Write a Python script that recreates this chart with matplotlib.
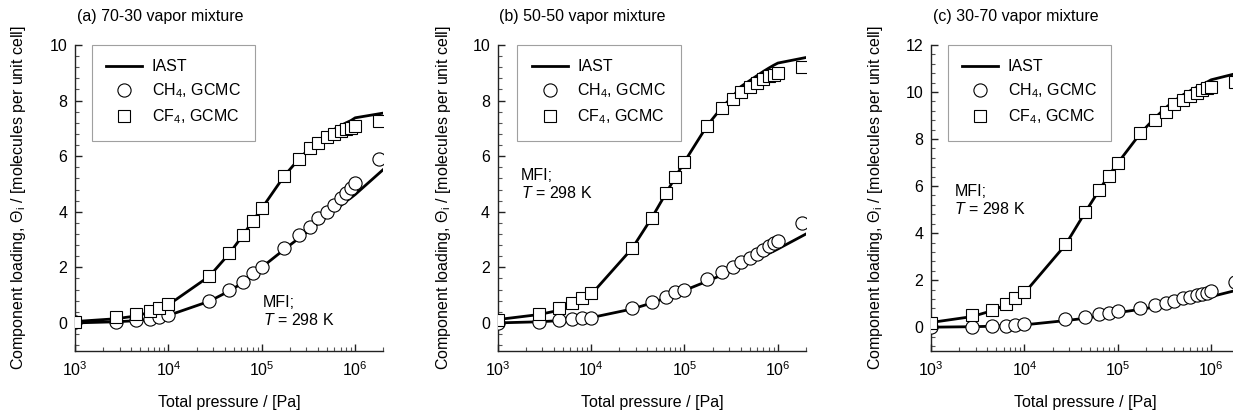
import numpy as np
import matplotlib
matplotlib.use("Agg")
import matplotlib.pyplot as plt
from matplotlib.ticker import MultipleLocator, LogLocator, NullFormatter
from matplotlib.lines import Line2D

plt.rcParams['font.family'] = ['Liberation Sans', 'DejaVu Sans']
plt.rcParams['mathtext.fontset'] = 'custom'
plt.rcParams['mathtext.rm'] = 'Liberation Sans'
plt.rcParams['mathtext.it'] = 'Liberation Sans:italic'
plt.rcParams['mathtext.bf'] = 'Liberation Sans:bold'

# ---------------- data ----------------
p_gcmc = [1e3, 2.75e3, 4.5e3, 6.3e3, 8e3, 1e4, 2.75e4, 4.5e4, 6.3e4, 8e4, 1e5,
          1.75e5, 2.5e5, 3.3e5, 4e5, 5e5, 6e5, 7e5, 8e5, 9e5, 1e6, 1.8e6]
p_iast = [1e3, 2.75e3, 4.5e3, 6.3e3, 8e3, 1e4, 2.75e4, 4.5e4, 6.3e4, 8e4, 1e5,
          1.75e5, 2.5e5, 3.3e5, 4e5, 5e5, 6e5, 7e5, 8e5, 9e5, 1e6, 2e6]

# (a) 70-30
a_cf4_gcmc = [0.05, 0.2, 0.31, 0.42, 0.55, 0.67, 1.68, 2.5, 3.16, 3.67, 4.12,
              5.3, 5.88, 6.28, 6.48, 6.7, 6.8, 6.9, 6.98, 7.02, 7.08, 7.28]
a_ch4_gcmc = [0.02, 0.05, 0.1, 0.15, 0.2, 0.3, 0.79, 1.18, 1.48, 1.78, 2.02,
              2.7, 3.16, 3.46, 3.76, 4.0, 4.24, 4.48, 4.68, 4.84, 5.02, 5.88]
a_cf4_iast = [0.05, 0.15, 0.25, 0.38, 0.52, 0.65, 1.68, 2.5, 3.16, 3.67, 4.12,
              5.3, 5.9, 6.3, 6.55, 6.8, 6.97, 7.1, 7.2, 7.28, 7.38, 7.55]
a_ch4_iast = [0.0, 0.04, 0.08, 0.13, 0.18, 0.27, 0.78, 1.15, 1.45, 1.72, 2.0,
              2.65, 3.05, 3.35, 3.58, 3.83, 4.04, 4.22, 4.38, 4.5, 4.62, 5.52]

# (b) 50-50
b_cf4_gcmc = [0.12, 0.31, 0.52, 0.72, 0.9, 1.08, 2.68, 3.79, 4.66, 5.26, 5.8,
              7.1, 7.72, 8.04, 8.3, 8.48, 8.65, 8.78, 8.87, 8.93, 8.98, 9.22]
b_ch4_gcmc = [0.0, 0.04, 0.1, 0.13, 0.16, 0.19, 0.52, 0.76, 0.95, 1.1, 1.2,
              1.58, 1.84, 2.0, 2.2, 2.35, 2.47, 2.64, 2.76, 2.86, 2.94, 3.6]
b_cf4_iast = [0.12, 0.3, 0.45, 0.62, 0.8, 1.02, 2.68, 3.8, 4.65, 5.25, 5.8,
              7.1, 7.75, 8.15, 8.5, 8.72, 8.9, 9.05, 9.17, 9.27, 9.35, 9.55]
b_ch4_iast = [0.0, 0.04, 0.08, 0.11, 0.15, 0.19, 0.5, 0.72, 0.9, 1.05, 1.17,
              1.5, 1.72, 1.9, 2.03, 2.18, 2.3, 2.4, 2.5, 2.58, 2.66, 3.2]

# (c) 30-70
c_cf4_gcmc = [0.18, 0.5, 0.72, 1.0, 1.25, 1.49, 3.54, 4.9, 5.82, 6.45, 6.98,
              8.25, 8.82, 9.17, 9.48, 9.66, 9.83, 9.97, 10.09, 10.16, 10.2, 10.44]
c_ch4_gcmc = [0.0, 0.02, 0.04, 0.07, 0.11, 0.15, 0.33, 0.42, 0.54, 0.6, 0.68,
              0.82, 0.93, 1.03, 1.13, 1.22, 1.29, 1.35, 1.4, 1.46, 1.53, 1.93]
c_cf4_iast = [0.2, 0.45, 0.7, 0.95, 1.2, 1.45, 3.5, 4.9, 5.82, 6.45, 6.98,
              8.25, 8.9, 9.35, 9.62, 9.88, 10.06, 10.2, 10.32, 10.42, 10.52, 10.82]
c_ch4_iast = [0.0, 0.02, 0.04, 0.06, 0.08, 0.1, 0.28, 0.38, 0.48, 0.56, 0.62,
              0.76, 0.86, 0.94, 1.0, 1.07, 1.13, 1.18, 1.23, 1.27, 1.3, 1.6]

titles = ["(a) 70-30 vapor mixture", "(b) 50-50 vapor mixture", "(c) 30-70 vapor mixture"]
ymaxes = [10, 10, 12]
legend_labels = ["IAST", "CH$_4$, GCMC", "CF$_4$, GCMC"]
annot = "MFI;\n$T$ = 298 K"

# ---------------- layout ----------------
W, H = 1233, 411
fig = plt.figure(figsize=(W / 100, H / 100), dpi=100)
FS = 11.5

lefts_px = [75, 497.7, 931]
ax_w_px, ax_bottom_px, ax_top_px = 308.3, 350.7, 45
legend_x = [0.054, 0.064, 0.054]
annot_pos = [(0.609, 0.128), (0.0756, 0.545), (0.0756, 0.491)]
ylabel_x = [-0.182, -0.176, -0.18]

panels = [
    (a_cf4_gcmc, a_ch4_gcmc, a_cf4_iast, a_ch4_iast),
    (b_cf4_gcmc, b_ch4_gcmc, b_cf4_iast, b_ch4_iast),
    (c_cf4_gcmc, c_ch4_gcmc, c_cf4_iast, c_ch4_iast),
]

for i, (cf4_g, ch4_g, cf4_i, ch4_i) in enumerate(panels):
    ax = fig.add_axes([lefts_px[i] / W, (H - ax_bottom_px) / H,
                       ax_w_px / W, (ax_bottom_px - ax_top_px) / H])
    ax.set_xscale('log')
    ax.plot(p_iast, cf4_i, color='black', lw=2.0, zorder=2)
    ax.plot(p_iast, ch4_i, color='black', lw=2.0, zorder=2)
    ax.plot(p_gcmc, ch4_g, linestyle='none', marker='o', ms=9.5, mfc='white',
            mec='black', mew=0.8, zorder=3)
    ax.plot(p_gcmc, cf4_g, linestyle='none', marker='s', ms=8.2, mfc='white',
            mec='black', mew=0.8, zorder=4)

    ax.set_xlim(1e3, 2e6)
    ax.set_ylim(-1, ymaxes[i])
    ax.yaxis.set_major_locator(MultipleLocator(2))
    ax.yaxis.set_minor_locator(MultipleLocator(0.4))
    ax.xaxis.set_major_locator(LogLocator(base=10, numticks=10))
    ax.xaxis.set_minor_locator(LogLocator(base=10, subs=np.arange(2, 10), numticks=20))
    ax.xaxis.set_minor_formatter(NullFormatter())

    for s in ['top', 'right']:
        ax.spines[s].set_visible(False)
    for s in ['left', 'bottom']:
        ax.spines[s].set_linewidth(1.0)
        ax.spines[s].set_color('#222222')
    ax.tick_params(which='major', direction='in', length=5, width=1.0,
                   color='#222222', labelsize=FS)
    ax.tick_params(which='minor', direction='in', length=3, width=0.8,
                   color='#555555')
    ax.tick_params(axis='y', which='major', pad=5.5)
    ax.tick_params(axis='x', which='major', pad=7)

    ax.set_xlabel("Total pressure / [Pa]", fontsize=FS)
    ax.xaxis.set_label_coords(0.5, -0.17)
    ax.xaxis.label.set_va('center')
    ax.set_ylabel("Component loading, \u0398$_\\mathrm{i}$ / [molecules per unit cell]",
                  fontsize=FS)
    ax.yaxis.set_label_coords(ylabel_x[i], 0.5)
    ax.yaxis.label.set_va('center')

    ax.text(0.005, 1.092, titles[i], transform=ax.transAxes, ha='left',
            va='center', fontsize=FS)
    ax.text(annot_pos[i][0], annot_pos[i][1], annot, transform=ax.transAxes,
            ha='left', va='center', fontsize=FS, linespacing=1.15)

    handles = [
        Line2D([], [], color='black', lw=2.0),
        Line2D([], [], linestyle='none', marker='o', ms=9.5, mfc='white',
               mec='black', mew=0.8),
        Line2D([], [], linestyle='none', marker='s', ms=8.2, mfc='white',
               mec='black', mew=0.8),
    ]
    leg = ax.legend(handles, legend_labels, loc='upper left',
                    bbox_to_anchor=(legend_x[i], 1.0), borderaxespad=0,
                    fontsize=FS, frameon=True, fancybox=False, borderpad=0.9,
                    labelspacing=0.45, handlelength=2.25, handletextpad=0.6)
    leg.get_frame().set_edgecolor('#888888')
    leg.get_frame().set_linewidth(0.8)

fig.savefig("out.png", dpi=100)
